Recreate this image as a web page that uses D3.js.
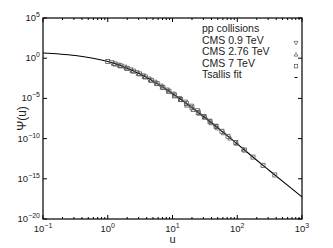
<!DOCTYPE html>
<html>
<head>
<meta charset="utf-8">
<script src="https://cdn.jsdelivr.net/npm/d3@7"></script>
<style>
  body { margin: 0; background: #fff; }
  text { font-family: "Liberation Sans", Arial, sans-serif; fill: #222; }
</style>
</head>
<body>
<div id="chart"></div>
<script>
// Tsallis fit curve
var fitU   = [0.1, 0.178, 0.316, 0.562, 1, 1.778, 3.162, 5.623, 10, 17.78, 31.62, 56.23, 100, 177.8, 316.2, 562.3, 1000];
var fitPsi = [4.47, 3.31, 2.14, 1.07, 0.38, 0.083, 0.0105, 7.9e-4, 4.0e-5, 1.4e-6, 4.2e-8, 1.0e-9, 2.2e-11, 4.5e-13, 1.0e-14, 2.3e-16, 5.6e-18];

// CMS 0.9 TeV
var u09   = [1.15, 1.45, 1.8, 2.25, 2.8, 3.5, 4.3, 5.3, 6.6, 8.2, 10.2, 12.7, 15.8, 19.6, 24.3, 30, 37, 46];
var psi09 = [0.28, 0.14, 0.080, 0.036, 0.0162, 6.6e-3, 2.6e-3, 1.05e-3, 3.5e-4, 1.12e-4, 3.5e-5, 1.0e-5, 3.5e-6, 1.1e-6, 3.0e-7, 5.8e-8, 1.5e-8, 3.6e-9];

// CMS 2.76 TeV
var u276   = [1.25, 1.55, 1.95, 2.4, 3.0, 3.7, 4.6, 5.7, 7.0, 8.7, 10.8, 13.5, 16.8, 21, 26, 32, 40, 50, 62, 78, 98, 125];
var psi276 = [0.21, 0.12, 0.060, 0.028, 0.0126, 5.2e-3, 1.95e-3, 7.4e-4, 2.6e-4, 8.1e-5, 2.0e-5, 7.0e-6, 1.4e-6, 4.1e-7, 1.4e-7, 4.9e-8, 9.1e-9, 2.1e-9, 5.2e-10, 1.15e-10, 2.6e-11, 4.9e-12];

// CMS 7 TeV
var u7   = [1.0, 1.3, 1.6, 2.0, 2.5, 3.1, 3.8, 4.7, 5.8, 7.1, 8.8, 10.8, 13.3, 16.4, 20, 25, 31, 38, 47, 58, 72, 95, 130, 175, 250, 380];
var psi7 = [0.38, 0.19, 0.11, 0.055, 0.0245, 0.0112, 4.6e-3, 1.8e-3, 6.8e-4, 2.3e-4, 7.8e-5, 2.6e-5, 7.6e-6, 2.2e-6, 6.9e-7, 1.8e-7, 4.8e-8, 1.26e-8, 3.2e-9, 8.2e-10, 1.95e-10, 3.2e-11, 3.7e-12, 5.0e-13, 4.7e-14, 3.0e-15];

var legendLabels = ["pp collisions", "CMS 0.9 TeV", "CMS 2.76 TeV", "CMS 7 TeV", "Tsallis fit"];
var xTickExp = [-1, 0, 1, 2, 3];
var yTickExp = [-20, -15, -10, -5, 0, 5];

var W = 333, H = 248;
var m = {left: 43, right: 31, top: 18, bottom: 29};

var svg = d3.select('#chart').append('svg')
	.attr('width', W).attr('height', H);

var x = d3.scaleLog().domain([0.1, 1000]).range([m.left, W - m.right]);
var y = d3.scaleLog().domain([1e-20, 1e5]).range([H - m.bottom, m.top]);

svg.append('clipPath').attr('id', 'clip')
	.append('rect')
	.attr('x', m.left).attr('y', m.top)
	.attr('width', W - m.left - m.right).attr('height', H - m.top - m.bottom);

///***** ticks *****///
var minorX = [];
xTickExp.slice(0, -1).forEach(function(e){
	for (var k = 2; k <= 9; k++) minorX.push(k * Math.pow(10, e));
});

var ticks = svg.append('g').attr('stroke', '#000').attr('stroke-width', 1);
[H - m.bottom, m.top].forEach(function(yy, i){
	var dir = i == 0 ? -1 : 1;
	ticks.selectAll(null).data(xTickExp).enter().append('line')
		.attr('x1', function(e){ return x(Math.pow(10, e)); })
		.attr('x2', function(e){ return x(Math.pow(10, e)); })
		.attr('y1', yy).attr('y2', yy + dir * 4);
	ticks.selectAll(null).data(minorX).enter().append('line')
		.attr('x1', function(d){ return x(d); })
		.attr('x2', function(d){ return x(d); })
		.attr('y1', yy).attr('y2', yy + dir * 2);
});
[m.left, W - m.right].forEach(function(xx, i){
	var dir = i == 0 ? 1 : -1;
	ticks.selectAll(null).data(yTickExp).enter().append('line')
		.attr('y1', function(e){ return y(Math.pow(10, e)); })
		.attr('y2', function(e){ return y(Math.pow(10, e)); })
		.attr('x1', xx).attr('x2', xx + dir * 4);
});

// tick labels: 10 with superscript exponent
var xl = svg.append('g').selectAll('text').data(xTickExp).enter().append('text')
	.attr('x', function(e){ return x(Math.pow(10, e)); })
	.attr('y', H - m.bottom + 13)
	.attr('text-anchor', 'middle')
	.style('font-size', '9.5px');
xl.append('tspan').text('10');
xl.append('tspan').attr('dy', -4).style('font-size', '7px').text(function(e){ return e < 0 ? '\u2212' + (-e) : e; });

var yl = svg.append('g').selectAll('text').data(yTickExp).enter().append('text')
	.attr('x', m.left - 3)
	.attr('y', function(e){ return y(Math.pow(10, e)) + 3; })
	.attr('text-anchor', 'end')
	.style('font-size', '9.5px');
yl.append('tspan').text('10');
yl.append('tspan').attr('dy', -4).style('font-size', '7px').text(function(e){ return e < 0 ? '\u2212' + (-e) : e; });

svg.append('text')
	.attr('x', (m.left + W - m.right) / 2).attr('y', H - 5)
	.attr('text-anchor', 'middle')
	.style('font-size', '11px')
	.text('u');

svg.append('text')
	.attr('transform', 'translate(' + 26 + ',' + ((m.top + H - m.bottom) / 2) + ') rotate(-90)')
	.attr('text-anchor', 'middle')
	.style('font-size', '12px')
	.text('\u03A8(u)');

///***** fit line *****///
var line = d3.line()
	.x(function(d){ return x(d[0]); })
	.y(function(d){ return y(d[1]); })
	.curve(d3.curveMonotoneX);

svg.append('path')
	.datum(d3.zip(fitU, fitPsi))
	.attr('clip-path', 'url(#clip)')
	.attr('d', line)
	.attr('fill', 'none')
	.attr('stroke', '#000')
	.attr('stroke-width', 1.1);

///***** markers *****///
var mk = svg.append('g')
	.attr('fill', 'none')
	.attr('stroke', '#555')
	.attr('stroke-width', 0.8);

function triDown(cx, cy, s){ return 'M' + (cx - s) + ',' + (cy - s * 0.8) + 'L' + (cx + s) + ',' + (cy - s * 0.8) + 'L' + cx + ',' + (cy + s * 0.9) + 'Z'; }
function triUp(cx, cy, s){ return 'M' + (cx - s) + ',' + (cy + s * 0.8) + 'L' + (cx + s) + ',' + (cy + s * 0.8) + 'L' + cx + ',' + (cy - s * 0.9) + 'Z'; }

mk.selectAll('.d').data(d3.zip(u09, psi09)).enter().append('path')
	.attr('d', function(d){ return triDown(x(d[0]), y(d[1]), 2.4); });
mk.selectAll('.u').data(d3.zip(u276, psi276)).enter().append('path')
	.attr('d', function(d){ return triUp(x(d[0]), y(d[1]), 2.4); });
mk.selectAll('rect').data(d3.zip(u7, psi7)).enter().append('rect')
	.attr('x', function(d){ return x(d[0]) - 2; })
	.attr('y', function(d){ return y(d[1]) - 2; })
	.attr('width', 4).attr('height', 4);

///***** frame *****///
svg.append('rect')
	.attr('x', m.left).attr('y', m.top)
	.attr('width', W - m.left - m.right).attr('height', H - m.top - m.bottom)
	.attr('fill', 'none').attr('stroke', '#000').attr('stroke-width', 1.2);

///***** legend *****///
var lg = svg.append('g');
lg.selectAll('text').data(legendLabels).enter().append('text')
	.attr('x', 202)
	.attr('y', function(d, i){ return 32 + i * 11.6; })
	.style('font-size', '10.5px')
	.text(function(d){ return d; });
var lx = 296;
lg.append('path').attr('d', triDown(lx, 43, 2)).attr('fill', 'none').attr('stroke', '#555').attr('stroke-width', 0.7);
lg.append('path').attr('d', triUp(lx, 54.5, 2)).attr('fill', 'none').attr('stroke', '#555').attr('stroke-width', 0.7);
lg.append('rect').attr('x', lx - 1.7).attr('y', 64.5).attr('width', 3.4).attr('height', 3.4)
	.attr('fill', 'none').attr('stroke', '#555').attr('stroke-width', 0.7);
lg.append('line').attr('x1', lx - 1.5).attr('x2', lx + 1.5).attr('y1', 77.5).attr('y2', 77.5)
	.attr('stroke', '#000').attr('stroke-width', 1);
</script>
</body>
</html>
